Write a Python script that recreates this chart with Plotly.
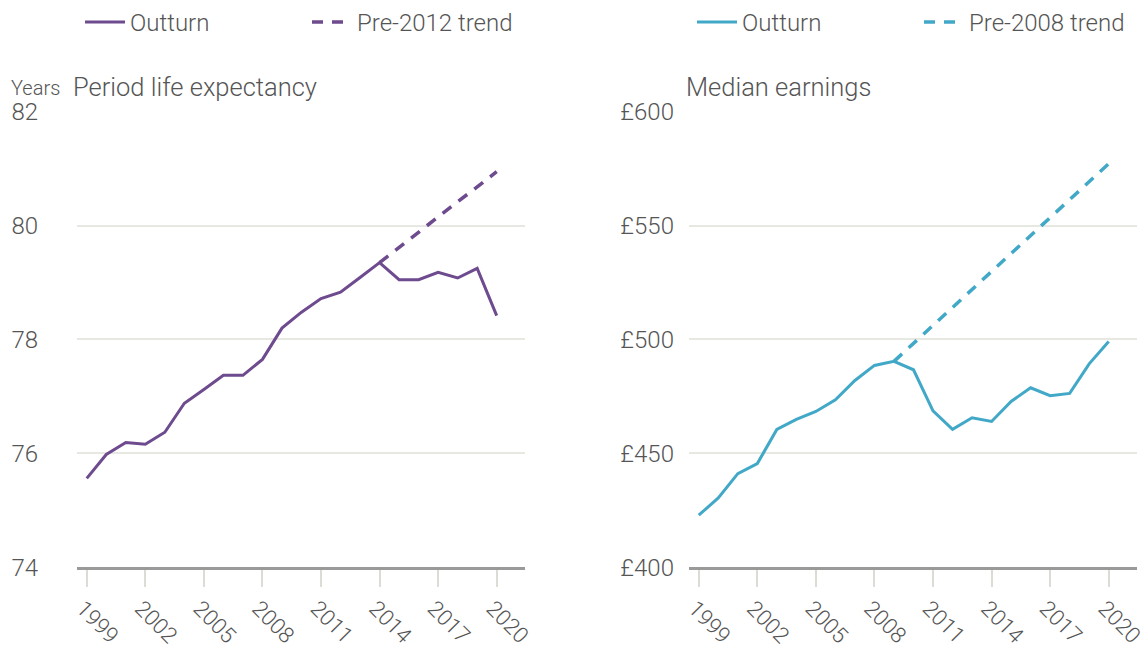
import plotly.graph_objects as go

# ---------------- data ----------------
years = list(range(1999, 2021))

life_expectancy = [75.56, 75.98, 76.19, 76.16, 76.37, 76.88, 77.12, 77.37, 77.37, 77.65,
                   78.20, 78.48, 78.72, 78.83, 79.09, 79.35, 79.05, 79.05, 79.18, 79.08,
                   79.25, 78.42]
le_trend_years = [2014, 2015, 2016, 2017, 2018, 2019, 2020]
le_trend = [79.35, 79.62, 79.88, 80.15, 80.42, 80.68, 80.95]

earnings = [422.8, 430.4, 441.1, 445.5, 460.5, 464.9, 468.4, 473.5, 482.0, 488.6,
            490.4, 486.7, 468.6, 460.5, 465.6, 464.0, 472.8, 478.8, 475.3, 476.3,
            489.3, 499.1]
earn_trend_years = [2009, 2010, 2011, 2012, 2013, 2014, 2015, 2016, 2017, 2018, 2019, 2020]
earn_trend = [490.4, 498.3, 506.2, 514.0, 522.0, 530.0, 537.8, 545.6, 553.5, 561.4, 569.3, 577.2]

x_ticks = [1999, 2002, 2005, 2008, 2011, 2014, 2017, 2020]
le_ticks = [74, 76, 78, 80, 82]
earn_ticks = [400, 450, 500, 550, 600]
earn_tick_labels = ["£400", "£450", "£500", "£550", "£600"]

# ---------------- style ----------------
PURPLE = "#6E4A8E"
BLUE = "#42A8C8"
TEXT = "#555555"
GRID = "#E8E8E3"
FONT = "Roboto"

W, H = 1147, 653


def px(x):
    return x / W


def py(y):
    return 1 - y / H


fig = go.Figure()

fig.add_trace(go.Scatter(x=years, y=life_expectancy, mode="lines", name="Outturn",
                         line=dict(color=PURPLE, width=3), legend="legend",
                         xaxis="x", yaxis="y"))
fig.add_trace(go.Scatter(x=le_trend_years, y=le_trend, mode="lines", name="Pre-2012 trend",
                         line=dict(color=PURPLE, width=3.5, dash="11px,9px"), legend="legend",
                         xaxis="x", yaxis="y"))
fig.add_trace(go.Scatter(x=years, y=earnings, mode="lines", name="Outturn",
                         line=dict(color=BLUE, width=3), legend="legend2",
                         xaxis="x2", yaxis="y2"))
fig.add_trace(go.Scatter(x=earn_trend_years, y=earn_trend, mode="lines", name="Pre-2008 trend",
                         line=dict(color=BLUE, width=3.5, dash="11px,9px"), legend="legend2",
                         xaxis="x2", yaxis="y2"))

ydom = [py(567), py(111)]

xcommon = dict(range=[1998.5, 2021.45], tickvals=x_ticks, tickangle=45,
               ticks="outside", ticklen=17, tickwidth=2, tickcolor="#DCDCD4",
               showline=True, linecolor="#9A9A9A", linewidth=2.5,
               showgrid=False, zeroline=False, automargin=False,
               ticklabeloverflow="allow", ticklabelshift=-4,
               tickfont=dict(family=FONT, size=22, color=TEXT, weight=300))

ytickfont = dict(family=FONT, size=24, color=TEXT, weight=300)
legfont = dict(family=FONT, size=24, color=TEXT, weight=300)

fig.update_layout(
    width=W, height=H,
    margin=dict(l=0, r=0, t=0, b=0),
    paper_bgcolor="white", plot_bgcolor="white",
    font=dict(family=FONT, color=TEXT, size=22, weight=300),
    showlegend=True,
    xaxis=dict(domain=[px(77), px(525)], anchor="y", **xcommon),
    xaxis2=dict(domain=[px(689), px(1137)], anchor="y2", **xcommon),
    yaxis=dict(domain=ydom, anchor="x", range=[74, 82], tickvals=le_ticks,
               showgrid=True, gridcolor=GRID, gridwidth=2, zeroline=False,
               showline=False, ticks="", ticklabelstandoff=38, automargin=False,
               tickfont=ytickfont),
    yaxis2=dict(domain=ydom, anchor="x2", range=[400, 600], tickvals=earn_ticks,
                ticktext=earn_tick_labels,
                showgrid=True, gridcolor=GRID, gridwidth=2, zeroline=False,
                showline=False, ticks="", ticklabelstandoff=14, automargin=False,
                tickfont=ytickfont),
    legend=dict(orientation="h", x=px(80), xanchor="left", y=py(22), yanchor="middle",
                font=legfont, entrywidth=172, bgcolor="rgba(0,0,0,0)", itemwidth=40),
    legend2=dict(orientation="h", x=px(692), xanchor="left", y=py(22), yanchor="middle",
                 font=legfont, entrywidth=172, bgcolor="rgba(0,0,0,0)", itemwidth=40),
    annotations=[
        dict(text="Years", x=px(9), y=py(87), xref="paper", yref="paper",
             xanchor="left", yanchor="middle", showarrow=False,
             font=dict(family=FONT, size=20, color=TEXT, weight=300)),
        dict(text="Period life expectancy", x=px(71), y=py(86), xref="paper", yref="paper",
             xanchor="left", yanchor="middle", showarrow=False,
             font=dict(family=FONT, size=25.5, color=TEXT, weight=300)),
        dict(text="Median earnings", x=px(684), y=py(86), xref="paper", yref="paper",
             xanchor="left", yanchor="middle", showarrow=False,
             font=dict(family=FONT, size=25.5, color=TEXT, weight=300)),
    ],
)

fig.write_html("out.html", config={"displayModeBar": False},
               post_script="document.body.style.margin='0';document.body.style.overflow='hidden';")
